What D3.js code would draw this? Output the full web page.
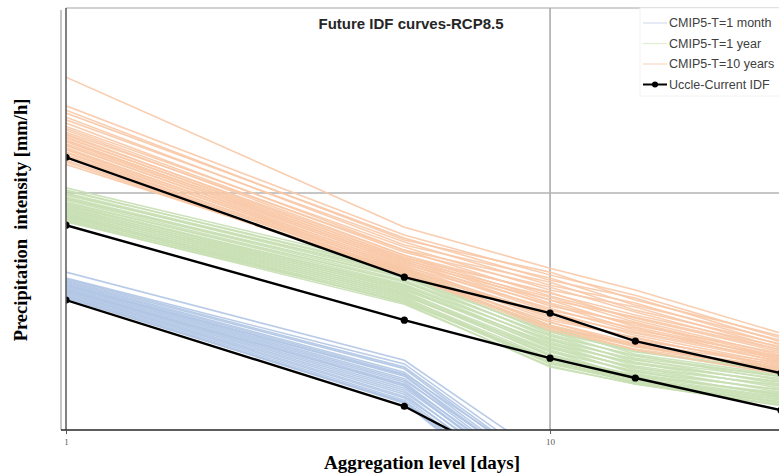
<!DOCTYPE html>
<html>
<head>
<meta charset="utf-8">
<script src="https://cdnjs.cloudflare.com/ajax/libs/d3/7.8.5/d3.min.js"></script>
<style>
  body { margin: 0; background: #fff; }
  svg { display: block; }
  .axisTitle { font-family: "Liberation Serif", "Times New Roman", serif; font-weight: bold; fill: #000; }
  .tickLabel { font-family: "Liberation Serif", serif; font-size: 9px; fill: #595959; }
  .legendText { font-family: "Liberation Sans", Arial, sans-serif; font-size: 12.5px; fill: #404040; }
</style>
</head>
<body>
<div id="chart"></div>
<script>
/************************** DATA **************************/

// aggregation levels [days]
var durations = [1, 5, 10, 15, 30];
var xTicks = [1, 10];

// Uccle current IDF [mm/h]
var uccleMonth = [0.366, 0.135, 0.066, 0.044, 0.022];
var uccleYear  = [0.740, 0.303, 0.212, 0.176, 0.130];
var uccle10y   = [1.40, 0.454, 0.324, 0.249, 0.184];

// CMIP5 RCP8.5 ensemble, T = 1 month
var cmipMonth = [
  [0.476, 0.208, 0.0813, 0.0558, 0.0317],
  [0.450, 0.201, 0.0754, 0.0527, 0.0300],
  [0.446, 0.195, 0.0727, 0.0508, 0.0289],
  [0.441, 0.192, 0.0700, 0.0489, 0.0278],
  [0.437, 0.186, 0.0674, 0.0471, 0.0268],
  [0.433, 0.183, 0.0740, 0.0499, 0.0283],
  [0.429, 0.179, 0.0649, 0.0454, 0.0258],
  [0.425, 0.175, 0.0625, 0.0437, 0.0249],
  [0.421, 0.172, 0.0687, 0.0463, 0.0263],
  [0.417, 0.169, 0.0602, 0.0421, 0.0240],
  [0.413, 0.166, 0.0637, 0.0429, 0.0245],
  [0.409, 0.163, 0.0580, 0.0405, 0.0231],
  [0.405, 0.160, 0.0613, 0.0413, 0.0236],
  [0.402, 0.157, 0.0558, 0.0390, 0.0222],
  [0.398, 0.154, 0.0591, 0.0397, 0.0227],
  [0.394, 0.151, 0.0538, 0.0376, 0.0215],
  [0.391, 0.148, 0.0569, 0.0383, 0.0219],
  [0.387, 0.146, 0.0518, 0.0362, 0.0207],
  [0.383, 0.143, 0.0499, 0.0348, 0.0199],
  [0.380, 0.140, 0.0480, 0.0335, 0.0192],
  [0.376, 0.139, 0.0463, 0.0323, 0.0185],
  [0.373, 0.141, 0.0508, 0.0355, 0.0203],
  [0.421, 0.181, 0.0661, 0.0454, 0.0258],
  [0.402, 0.165, 0.0585, 0.0401, 0.0229]
];

// CMIP5 RCP8.5 ensemble, T = 1 year
var cmipYear = [
  [1.05, 0.494, 0.289, 0.236, 0.193],
  [1.03, 0.476, 0.281, 0.229, 0.186],
  [1.02, 0.485, 0.276, 0.225, 0.190],
  [1.00, 0.467, 0.284, 0.220, 0.181],
  [0.990, 0.459, 0.271, 0.227, 0.184],
  [0.981, 0.472, 0.266, 0.216, 0.178],
  [0.963, 0.450, 0.273, 0.212, 0.179],
  [0.954, 0.441, 0.261, 0.218, 0.172],
  [0.945, 0.454, 0.256, 0.208, 0.175],
  [0.936, 0.433, 0.263, 0.204, 0.169],
  [0.919, 0.425, 0.251, 0.210, 0.166],
  [0.910, 0.437, 0.247, 0.201, 0.170],
  [0.901, 0.417, 0.253, 0.197, 0.163],
  [0.893, 0.409, 0.242, 0.203, 0.160],
  [0.885, 0.421, 0.238, 0.193, 0.165],
  [0.876, 0.402, 0.244, 0.190, 0.157],
  [0.868, 0.413, 0.233, 0.195, 0.154],
  [0.860, 0.394, 0.229, 0.186, 0.158],
  [0.852, 0.405, 0.236, 0.183, 0.151],
  [0.844, 0.387, 0.225, 0.188, 0.148],
  [0.836, 0.398, 0.220, 0.179, 0.153],
  [0.828, 0.380, 0.227, 0.175, 0.146],
  [0.821, 0.390, 0.216, 0.181, 0.150],
  [0.813, 0.373, 0.212, 0.172, 0.143],
  [0.805, 0.383, 0.218, 0.178, 0.147],
  [0.798, 0.366, 0.208, 0.169, 0.140],
  [0.791, 0.376, 0.204, 0.174, 0.144],
  [0.783, 0.359, 0.210, 0.167, 0.137],
  [0.776, 0.369, 0.201, 0.170, 0.141],
  [0.769, 0.352, 0.197, 0.166, 0.136],
  [0.762, 0.362, 0.203, 0.169, 0.139],
  [0.813, 0.356, 0.195, 0.167, 0.136]
];

// CMIP5 RCP8.5 ensemble, T = 10 years
var cmip10y = [
  [2.97, 0.726, 0.494, 0.402, 0.268],
  [2.27, 0.674, 0.463, 0.383, 0.256],
  [2.18, 0.643, 0.476, 0.366, 0.261],
  [2.12, 0.655, 0.441, 0.373, 0.247],
  [2.04, 0.614, 0.450, 0.349, 0.251],
  [1.99, 0.631, 0.421, 0.356, 0.240],
  [1.93, 0.585, 0.433, 0.333, 0.242],
  [1.87, 0.602, 0.402, 0.343, 0.233],
  [1.84, 0.574, 0.413, 0.327, 0.229],
  [1.81, 0.558, 0.390, 0.318, 0.236],
  [1.77, 0.585, 0.380, 0.309, 0.225],
  [1.74, 0.543, 0.394, 0.303, 0.218],
  [1.72, 0.558, 0.366, 0.312, 0.229],
  [1.69, 0.533, 0.376, 0.297, 0.214],
  [1.68, 0.548, 0.356, 0.289, 0.222],
  [1.65, 0.523, 0.366, 0.284, 0.212],
  [1.63, 0.538, 0.346, 0.294, 0.208],
  [1.62, 0.513, 0.352, 0.276, 0.216],
  [1.59, 0.528, 0.333, 0.281, 0.204],
  [1.57, 0.503, 0.339, 0.271, 0.210],
  [1.56, 0.518, 0.327, 0.263, 0.201],
  [1.53, 0.494, 0.321, 0.268, 0.206],
  [1.51, 0.508, 0.309, 0.256, 0.197],
  [1.50, 0.485, 0.315, 0.251, 0.203],
  [1.47, 0.498, 0.303, 0.258, 0.193],
  [1.46, 0.476, 0.297, 0.244, 0.199],
  [1.43, 0.490, 0.289, 0.240, 0.190],
  [1.42, 0.472, 0.284, 0.236, 0.195],
  [1.39, 0.481, 0.281, 0.242, 0.186],
  [1.36, 0.467, 0.276, 0.231, 0.192],
  [1.34, 0.463, 0.286, 0.229, 0.183],
  [1.31, 0.476, 0.297, 0.238, 0.188]
];

var legendItems = [
  { label: "CMIP5-T=1 month", color: "#d6e1f2", marker: false },
  { label: "CMIP5-T=1 year", color: "#e2edd8", marker: false },
  { label: "CMIP5-T=10 years", color: "#fadcc8", marker: false },
  { label: "Uccle-Current IDF", color: "#000", marker: true }
];

/************************** RENDER **************************/

var width = 779, height = 474;
var plot = { left: 66, right: 781, top: 8, bottom: 430 };

var svg = d3.select("#chart").append("svg")
    .attr("width", width)
    .attr("height", height);

var x = d3.scaleLog().domain([1, 30]).range([plot.left, plot.right]);
var y = d3.scaleLog().domain([0.108, 5.69]).range([plot.bottom, plot.top]);

svg.append("clipPath").attr("id", "plotClip")
  .append("rect")
    .attr("x", plot.left)
    .attr("y", plot.top)
    .attr("width", width - plot.left)
    .attr("height", plot.bottom - plot.top);

// frame + gridlines
svg.append("line")
    .attr("x1", plot.left).attr("x2", width)
    .attr("y1", plot.top).attr("y2", plot.top)
    .attr("stroke", "#a6a6a6").attr("stroke-width", 1.2);

svg.append("line")
    .attr("x1", x(10)).attr("x2", x(10))
    .attr("y1", plot.top).attr("y2", plot.bottom)
    .attr("stroke", "#a6a6a6").attr("stroke-width", 1.5);

svg.append("line")
    .attr("x1", plot.left).attr("x2", width)
    .attr("y1", y(1)).attr("y2", y(1))
    .attr("stroke", "#b3b3b3").attr("stroke-width", 1.5);

// second, outer y axis line (labels fall outside the picture)
svg.append("line")
    .attr("x1", plot.left - 5).attr("x2", plot.left - 5)
    .attr("y1", plot.top + 2).attr("y2", plot.bottom)
    .attr("stroke", "#8c8c8c").attr("stroke-width", 1);

var line = d3.line()
    .x(function(d, i) { return x(durations[i]); })
    .y(function(d) { return y(d); });

var lines = svg.append("g").attr("clip-path", "url(#plotClip)");

function ensemble(rows, color) {
  lines.append("g").selectAll("path")
    .data(rows)
    .enter().append("path")
      .attr("d", line)
      .attr("fill", "none")
      .attr("stroke", color)
      .attr("stroke-width", 1.6)
      .attr("stroke-opacity", 0.9);
}

ensemble(cmipMonth, "#b0c5e4");
ensemble(cmipYear, "#c8dfb2");
ensemble(cmip10y, "#f8c8a6");

[uccleMonth, uccleYear, uccle10y].map(function(curve){
  lines.append("path")
      .attr("d", line(curve))
      .attr("fill", "none")
      .attr("stroke", "#000")
      .attr("stroke-width", 2.4);

  lines.selectAll(null)
    .data(curve)
    .enter().append("circle")
      .attr("cx", function(d, i) { return x(durations[i]); })
      .attr("cy", function(d) { return y(d); })
      .attr("r", 3.6)
      .attr("fill", "#000");
});

// left frame and bottom axis
svg.append("line")
    .attr("x1", plot.left).attr("x2", plot.left)
    .attr("y1", plot.top).attr("y2", plot.bottom)
    .attr("stroke", "#595959").attr("stroke-width", 1.5);

var xAxis = svg.append("g")
    .attr("transform", "translate(0," + plot.bottom + ")")
    .call(d3.axisBottom(x).tickValues(xTicks).tickFormat(d3.format("d")).tickSize(4));

xAxis.select(".domain").attr("stroke", "#262626").attr("stroke-width", 1.4)
  .attr("d", "M" + (plot.left - 5) + ",0H" + width);
xAxis.selectAll(".tick line").attr("stroke", "#595959");
xAxis.selectAll(".tick text")
    .attr("class", "tickLabel")
    .attr("dy", "0.9em");
xAxis.attr("font-family", null).attr("font-size", null);

// titles
svg.append("text")
    .attr("x", 411)
    .attr("y", 29)
    .attr("text-anchor", "middle")
    .style("font-family", "'Liberation Sans', Arial, sans-serif")
    .style("font-weight", "bold")
    .style("font-size", "15px")
    .style("fill", "#262626")
    .text("Future IDF curves-RCP8.5");

svg.append("text")
    .attr("class", "axisTitle")
    .attr("x", 422)
    .attr("y", 469)
    .attr("text-anchor", "middle")
    .style("font-size", "19px")
    .text("Aggregation level [days]");

svg.append("text")
    .attr("class", "axisTitle")
    .attr("transform", "translate(27,220) rotate(-90)")
    .attr("text-anchor", "middle")
    .style("font-size", "18.5px")
    .style("white-space", "pre")
    .text("Precipitation  intensity [mm/h]");

// legend
var legend = svg.append("g").attr("transform", "translate(640,8)");

legend.append("rect")
    .attr("width", 145)
    .attr("height", 88)
    .attr("fill", "#fff")
    .attr("stroke", "#f2f2f2");

var rows = legend.selectAll(".legendRow")
    .data(legendItems)
    .enter().append("g")
      .attr("class", "legendRow")
      .attr("transform", function(d, i) { return "translate(0," + (15 + i * 20.5) + ")"; });

rows.append("line")
    .attr("x1", 3).attr("x2", 27)
    .attr("stroke", function(d) { return d.color; })
    .attr("stroke-width", function(d) { return d.marker ? 2 : 1.3; });

rows.filter(function(d) { return d.marker; })
  .append("circle")
    .attr("cx", 15)
    .attr("r", 3)
    .attr("fill", "#000");

rows.append("text")
    .attr("class", "legendText")
    .attr("x", 29)
    .attr("dy", "0.35em")
    .text(function(d) { return d.label; });
</script>
</body>
</html>
